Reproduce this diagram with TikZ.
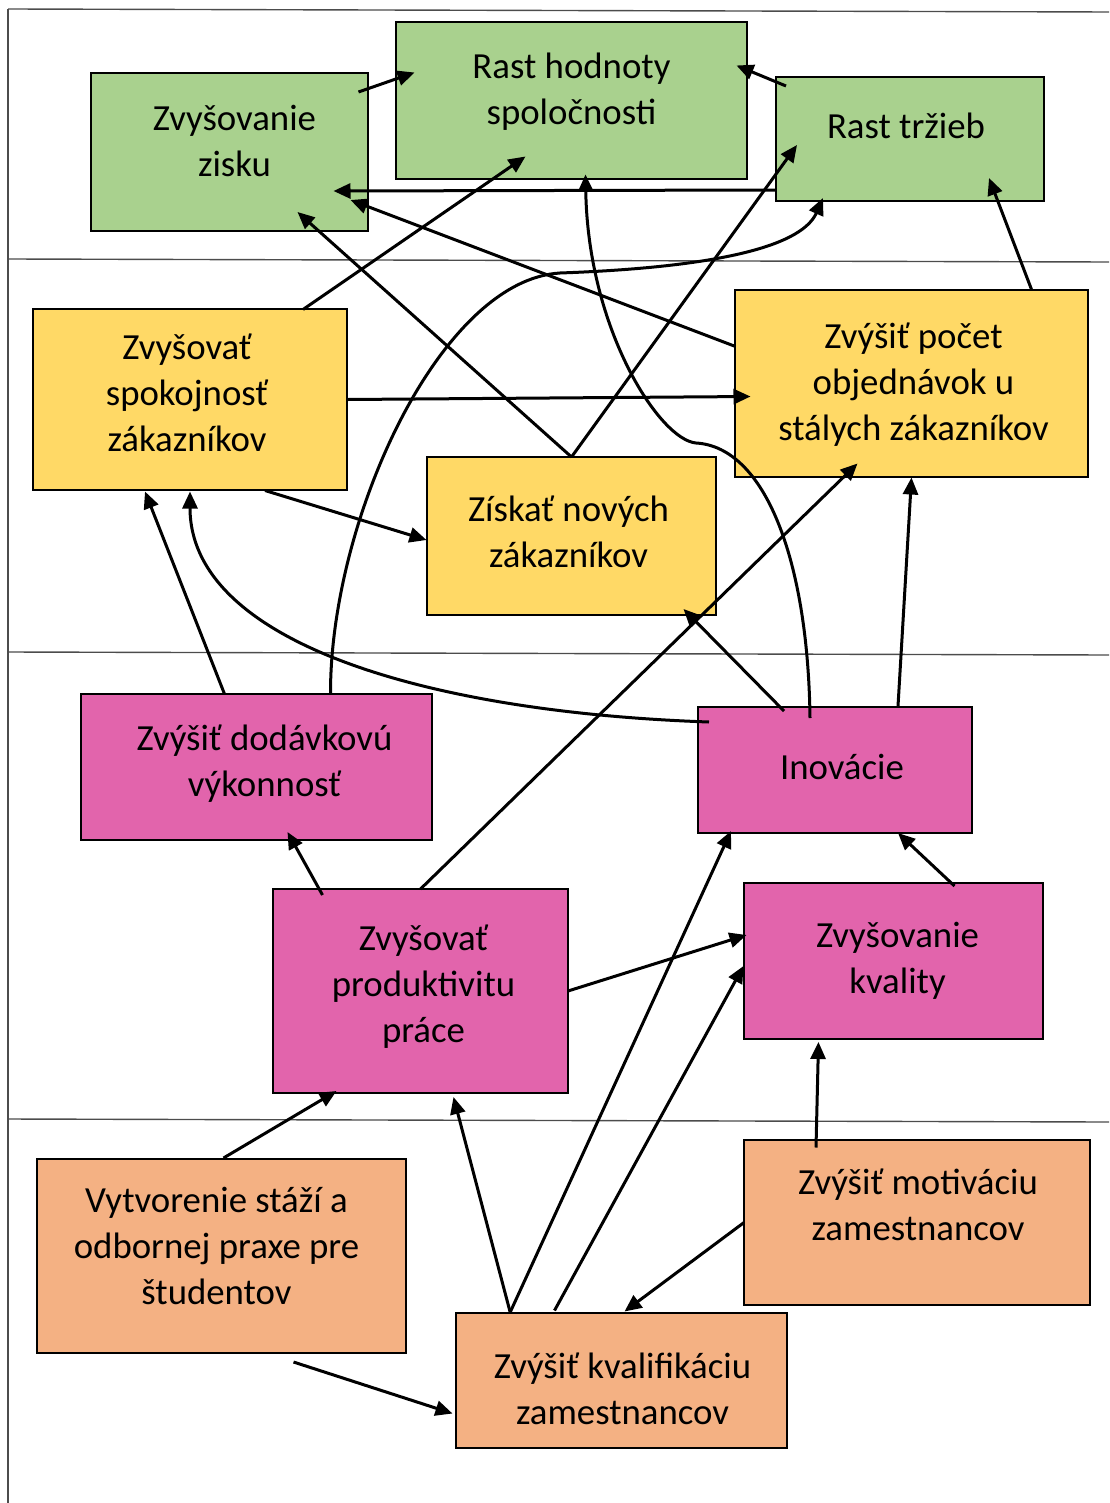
\documentclass[tikz,border=0pt]{standalone}
\usepackage{fontspec}
\setmainfont{Carlito}
\usepackage{xcolor}
\usetikzlibrary{arrows.meta}

\definecolor{goalgreen}{HTML}{A9D18E}
\definecolor{custyellow}{HTML}{FFD966}
\definecolor{procpink}{HTML}{E264AC}
\definecolor{learnorange}{HTML}{F4B183}

\begin{document}
\begin{tikzpicture}[
    x=0.5pt, y=-0.5pt,
    box/.style={rectangle, draw=black, line width=1.4pt, inner sep=0pt, outer sep=0pt},
    txt/.style={font=\fontsize{18.4pt}{23pt}\selectfont, align=center, inner sep=0pt},
    arr/.style={-{Triangle[length=8.5pt, width=7.5pt]}, line width=1.5pt, black},
    sep/.style={line width=0.7pt, black!70}
]
\useasboundingbox (0,0) rectangle (1109,1503);

% perspective borders
\draw[sep] (8,9) -- (1109,12);
\draw[sep] (8,259) -- (1109,262);
\draw[sep] (8,652) -- (1109,655);
\draw[sep] (8,1119) -- (1109,1122);
\draw[sep] (8,9) -- (8,1503);

% financial
\node[box, fill=goalgreen, minimum width=138.5pt, minimum height=79pt,
      label={[txt, shift={(5,-11)}]center:{Zvyšovanie\\zisku}}] (zisk) at (229.5,152) {};
\node[box, fill=goalgreen, minimum width=175.5pt, minimum height=78.5pt,
      label={[txt, shift={(0,-9)}]center:{Rast hodnoty\\spoločnosti}}] (hodnota) at (571.5,100.5) {};
\node[box, fill=goalgreen, minimum width=134pt, minimum height=62pt,
      label={[txt, shift={(-4,-13)}]center:{Rast tržieb}}] (trzby) at (910,139) {};

% customer
\node[box, fill=custyellow, minimum width=157pt, minimum height=90.5pt,
      label={[txt, shift={(-3,-7)}]center:{Zvyšovať\\spokojnosť\\zákazníkov}}] (spok) at (190,399.5) {};
\node[box, fill=custyellow, minimum width=176.5pt, minimum height=93.5pt,
      label={[txt, shift={(2,1)}]center:{Zvýšiť počet\\objednávok u\\stálych zákazníkov}}] (pocet) at (911.5,383.5) {};
\node[box, fill=custyellow, minimum width=144.5pt, minimum height=79pt,
      label={[txt, shift={(-3,-4)}]center:{Získať nových\\zákazníkov}}] (novych) at (571.5,536) {};

% internal processes
\node[box, fill=procpink, minimum width=175.5pt, minimum height=73pt,
      label={[txt, shift={(8,-3)}]center:{Zvýšiť dodávkovú\\výkonnosť}}] (dodav) at (256.5,767) {};
\node[box, fill=procpink, minimum width=137pt, minimum height=63pt,
      label={[txt, shift={(7,-3)}]center:{Inovácie}}] (inov) at (835,770) {};
\node[box, fill=procpink, minimum width=147.5pt, minimum height=102pt,
      label={[txt, shift={(3,-4)}]center:{Zvyšovať\\produktivitu\\práce}}] (produkt) at (420.5,991) {};
\node[box, fill=procpink, minimum width=149.5pt, minimum height=78pt,
      label={[txt, shift={(4,0)}]center:{Zvyšovanie\\kvality}}] (kvalita) at (893.5,961) {};

% learning and growth
\node[box, fill=learnorange, minimum width=184.5pt, minimum height=97pt,
      label={[txt, shift={(-5,-10)}]center:{Vytvorenie stáží a\\odbornej praxe pre\\študentov}}] (staze) at (221.5,1256) {};
\node[box, fill=learnorange, minimum width=173pt, minimum height=82.5pt,
      label={[txt, shift={(1,-18)}]center:{Zvýšiť motiváciu\\zamestnancov}}] (motiv) at (917,1222.5) {};
\node[box, fill=learnorange, minimum width=165.5pt, minimum height=67.5pt,
      label={[txt, shift={(1,8)}]center:{Zvýšiť kvalifikáciu\\zamestnancov}}] (kvalif) at (621.5,1380.5) {};

% links
\draw[arr] ([shift={(129,-60)}]zisk.center) -- ([shift={(-157,-28)}]hodnota.center);
\draw[arr] ([shift={(-124,-53)}]trzby.center) -- ([shift={(165,-35)}]hodnota.center);
\draw[arr] ([shift={(-134,51)}]trzby.center) -- ([shift={(104,39)}]zisk.center);
\draw[arr] ([shift={(-176,-37)}]pocet.center) -- ([shift={(121,48)}]zisk.center);
\draw[arr] (novych.north) -- ([shift={(68,60)}]zisk.center);
\draw[arr] (novych.north) -- ([shift={(-113,6)}]trzby.center);
\draw[arr] ([shift={(113,-90)}]spok.center) -- ([shift={(-46,56)}]hodnota.center);
\draw[arr] ([shift={(74,-73)}]dodav.center) .. controls (330,520) and (440,280) .. (560,273)
    .. controls (700,268) and (800,250) .. ([shift={(-87,59)}]trzby.center);
\draw[arr] ([shift={(-25,-52)}]inov.center) .. controls (808,560) and (765,447) .. (696,443)
    .. controls (660,440) and (588,330) .. ([shift={(14,74)}]hodnota.center);
\draw[arr] ([shift={(120,-94)}]pocet.center) -- ([shift={(79,39)}]trzby.center);
\draw[arr] ([shift={(158,0)}]spok.center) -- ([shift={(-161,13)}]pocet.center);
\draw[arr] ([shift={(75,91)}]spok.center) -- ([shift={(-145,4)}]novych.center);
\draw[arr] ([shift={(-32,-73)}]dodav.center) -- ([shift={(-45,92)}]spok.center);
\draw[arr] ([shift={(-126,-48)}]inov.center) .. controls (420,712) and (190,640) .. ([shift={(0,92)}]spok.center);
\draw[arr] ([shift={(-51,-59)}]inov.center) -- ([shift={(112,73)}]novych.center);
\draw[arr] (produkt.north) -- ([shift={(-54,80)}]pocet.center);
\draw[arr] ([shift={(63,-64)}]inov.center) -- ([shift={(0,94)}]pocet.center);
\draw[arr] ([shift={(-98,-96)}]produkt.center) -- ([shift={(31,65)}]dodav.center);
\draw[arr] ([shift={(61,-75)}]kvalita.center) -- ([shift={(63,63)}]inov.center);
\draw[arr] (produkt.east) -- ([shift={(-147,-26)}]kvalita.center);
\draw[arr] ([shift={(-111,-69)}]kvalif.center) -- ([shift={(-104,61)}]inov.center);
\draw[arr] ([shift={(-67,-70)}]kvalif.center) -- ([shift={(-150,5)}]kvalita.center);
\draw[arr] ([shift={(-111,-67)}]kvalif.center) -- ([shift={(33,106)}]produkt.center);
\draw[arr] ([shift={(2,-98)}]staze.center) -- ([shift={(-84,100)}]produkt.center);
\draw[arr] ([shift={(-101,-75)}]motiv.center) -- ([shift={(-75,81)}]kvalita.center);
\draw[arr] (motiv.west) -- ([shift={(3,-69)}]kvalif.center);
\draw[arr] ([shift={(72,106)}]staze.center) -- ([shift={(-169,33)}]kvalif.center);
\end{tikzpicture}
\end{document}
